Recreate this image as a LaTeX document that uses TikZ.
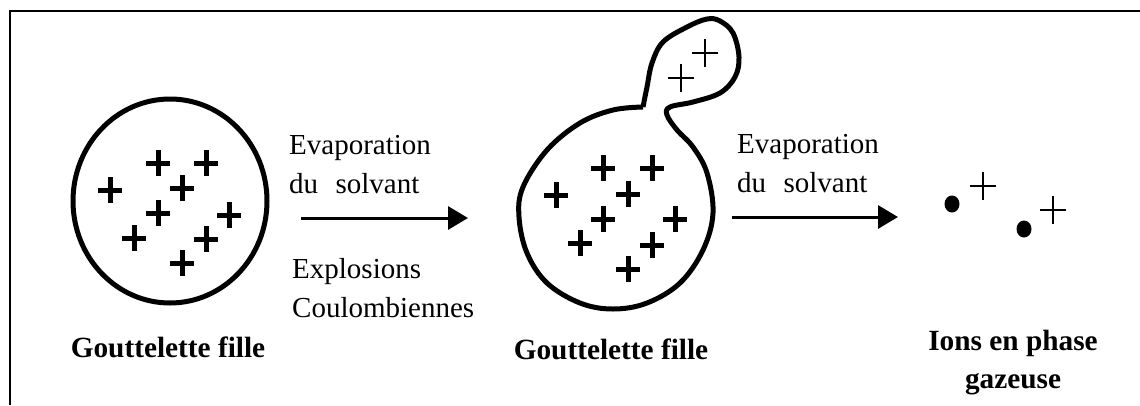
\documentclass[tikz,border=0pt]{standalone}
\usepackage{fontspec}
\setmainfont{Liberation Serif}
\usetikzlibrary{arrows.meta}

\begin{document}
\begin{tikzpicture}[x=1pt,y=-1pt,
	lbl/.style={font=\fontsize{29}{34}\selectfont,inner sep=0pt,anchor=base west},
	ttl/.style={font=\fontsize{29.3}{34}\selectfont\bfseries,inner sep=0pt,anchor=base},
	wall/.style={line width=5pt,line join=round},
	chg/.style={line width=5pt},
	ion/.style={line width=2.5pt},
	flow/.style={line width=3pt,-{Triangle[length=20pt,width=23pt]}}]
	\useasboundingbox (0,0) rectangle (1140,405);
	\draw[line width=2pt] (1140,11) -- (9.5,11) -- (9.5,405);

	\draw[wall] (170,201) ellipse [x radius=97, y radius=102];
	\foreach \x/\y in {110/190,158/163,206/163,182/188,158/213,229/215,134/238,206/239,182/263}
		\draw[chg] (\x-12,\y) -- (\x+12,\y) (\x,\y-13) -- (\x,\y+13);
	\node[ttl] (drop1) at (168,357) {Gouttelette fille};

	\coordinate (a1s) at (301,218);
	\coordinate (a1e) at (468,218);
	\draw[flow] (a1s) -- (a1e);
	\node[lbl] (evap1) at (289,154) {Evaporation};
	\node[lbl] (solv1) at (289,193) {du\hspace{0.6em}solvant};
	\node[lbl] (expl) at (292,278) {Explosions};
	\node[lbl] (coul) at (292,317) {Coulombiennes};

	\draw[wall] plot[smooth,tension=0.6] coordinates {(643,107) (613,110) (580,123) (547,150) (523,187) (519,217) (527,253) (547,283) (580,303) (613,309) (647,303) (680,283) (703,250) (713,213) (707,173) (693,147) (677,130) (667,115) (670,107) (693,102) (720,93) (735,77) (739,57) (733,33) (720,21) (707,19) (687,27) (663,42) (652,63) (647,87) (643,107)};
	\foreach \x/\y in {556/195,603/168,652/168,628/194,603/219,675/219,580/243,652/245,628/269}
		\draw[chg] (\x-12,\y) -- (\x+12,\y) (\x,\y-13) -- (\x,\y+13);
	\foreach \x/\y in {681/78,705/53,983/186,1053/210}
		\draw[ion] (\x-13,\y) -- (\x+13,\y) (\x,\y-14) -- (\x,\y+14);
	\node[ttl] (drop2) at (611,359) {Gouttelette fille};

	\coordinate (a2s) at (732,217);
	\coordinate (a2e) at (898,217);
	\draw[flow] (a2s) -- (a2e);
	\node[lbl] (evap2) at (737,153) {Evaporation};
	\node[lbl] (solv2) at (737,192) {du\hspace{0.6em}solvant};

	\fill (952,204) ellipse [x radius=7.5, y radius=8.5];
	\fill (1024,229) ellipse [x radius=7.5, y radius=8.5];
	\node[ttl] (ions) at (1013,350) {Ions en phase};
	\node[ttl] (gaz) at (1013,388) {gazeuse};
\end{tikzpicture}
\end{document}
